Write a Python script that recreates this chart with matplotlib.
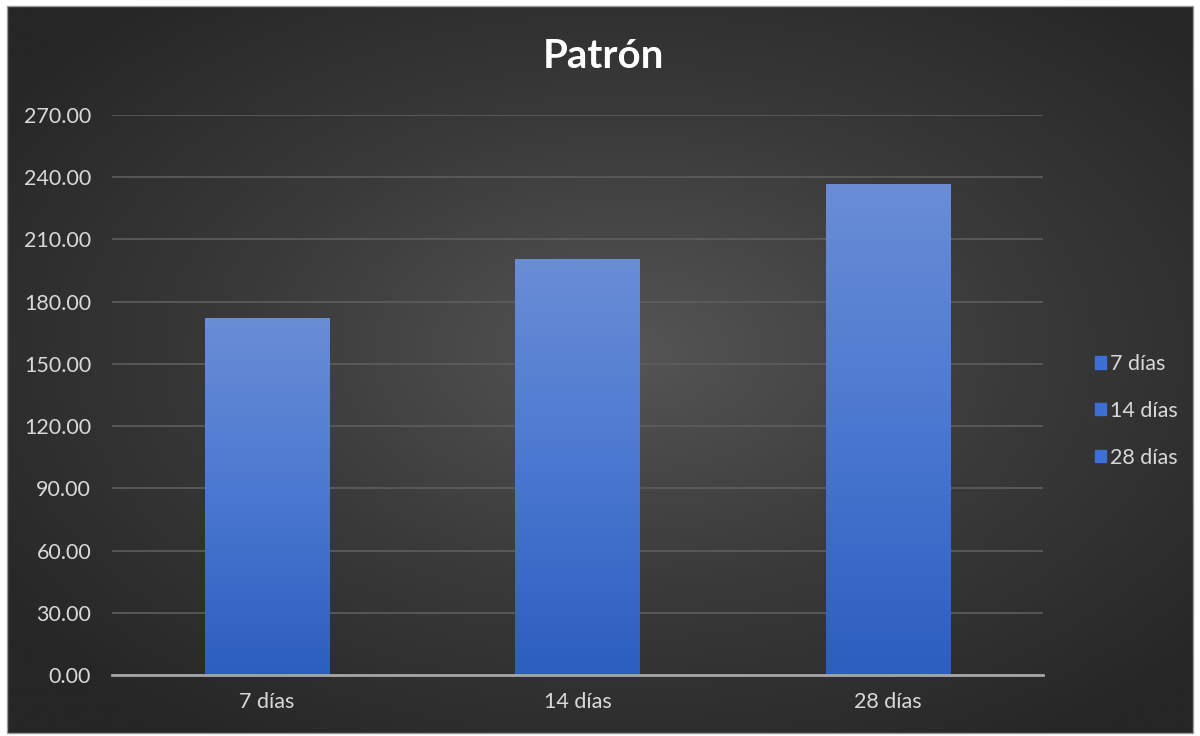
import numpy as np
import matplotlib.pyplot as plt
from matplotlib.colors import LinearSegmentedColormap

# datos
categorias = ['7 días', '14 días', '28 días']
valores = [172.0, 200.5, 236.3]
yticks = [0, 30, 60, 90, 120, 150, 180, 210, 240, 270]

plt.rcParams['font.family'] = ['Lato', 'DejaVu Sans']

fig = plt.figure(figsize=(12, 7.36), dpi=100, facecolor='white')

# fondo oscuro con degradado radial
bg = fig.add_axes([7 / 1200, 1 - 733 / 736, 1186 / 1200, 727 / 736])
gx, gy = np.meshgrid(np.linspace(-1, 1, 400), np.linspace(-1, 1, 250))
r = np.clip(np.sqrt((gx - 0.05) ** 2 + (gy + 0.05) ** 2) / 1.3, 0, 1)
bg_cmap = LinearSegmentedColormap.from_list('bg', ['#555555', '#3a3a3a', '#262626'])
bg.imshow(r, cmap=bg_cmap, aspect='auto', extent=(0, 1, 0, 1), vmin=0, vmax=1)
bg.set_axis_off()
fig.patches.append(plt.Rectangle((7 / 1200, 1 - 733 / 736), 1186 / 1200, 727 / 736,
                                 transform=fig.transFigure, fill=False,
                                 edgecolor='#9a9a9a', linewidth=1.0))

ax = fig.add_axes([112 / 1200, 1 - 675 / 736, (1043 - 112) / 1200, (675 - 115) / 736])
ax.patch.set_visible(False)

x = np.arange(len(categorias))
bars = []
for i, (cat, val) in enumerate(zip(categorias, valores)):
    b = ax.bar(x[i], val, width=0.4, color='#3f6fd0', label=cat, zorder=3)
    bars.append(b[0])

# degradado vertical en las barras
bar_cmap = LinearSegmentedColormap.from_list('bar', ['#2c5ec0', '#4a78d0', '#6a8dd6'])
grad = np.linspace(0, 1, 256).reshape(-1, 1)
for b in bars:
    bx, bw, bh = b.get_x(), b.get_width(), b.get_height()
    b.set_facecolor('none')
    b.set_edgecolor('none')
    ax.imshow(grad, cmap=bar_cmap, origin='lower', aspect='auto',
              extent=(bx, bx + bw, 0, bh), zorder=3)

ax.set_xlim(-0.5, len(categorias) - 0.5)
ax.set_ylim(0, 270)
ax.set_yticks(yticks)
ax.set_yticklabels([f'{v:.2f}' for v in yticks])
ax.set_xticks(x)
ax.set_xticklabels(categorias)
ax.tick_params(axis='both', length=0, colors='#d9d9d9', labelsize=15.5)
ax.tick_params(axis='y', pad=15)
ax.tick_params(axis='x', pad=12)
ax.grid(axis='y', color='#5e5e5e', linewidth=1.2, zorder=1)
for s in ['top', 'right', 'left']:
    ax.spines[s].set_visible(False)
ax.spines['bottom'].set_color('#a6a6a6')
ax.spines['bottom'].set_linewidth(2)
ax.spines['bottom'].set_zorder(4)

fig.text(603 / 1200, 1 - 57 / 736, 'Patrón', color='white', fontsize=29,
         fontweight='bold', ha='center', va='center')

handles = [plt.Rectangle((0, 0), 1, 1, color='#3d6fd6') for _ in categorias]
fig.legend(handles, categorias, loc='center left',
           bbox_to_anchor=(1076 / 1200, 1 - 411 / 736), frameon=False,
           fontsize=15.5, labelcolor='#d9d9d9', handlelength=0.5, handleheight=0.5,
           handletextpad=0.2, labelspacing=1.25)

plt.savefig('out.png', dpi=100, facecolor='white')
